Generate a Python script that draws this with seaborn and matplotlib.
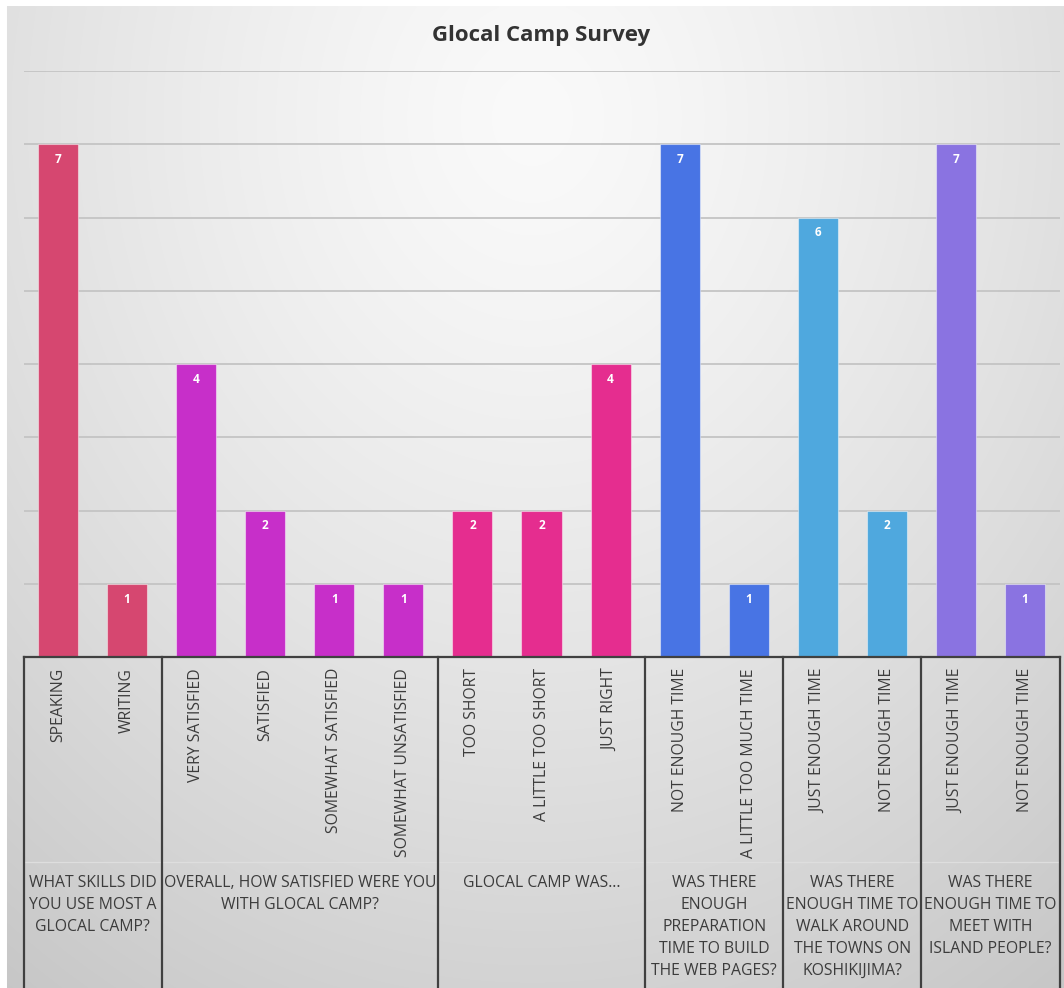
import numpy as np
import pandas as pd
import matplotlib
matplotlib.use("Agg")
import matplotlib.pyplot as plt
import matplotlib.transforms as mtrans
import seaborn as sns

# ---------------- data ----------------
categories = ["SPEAKING", "WRITING",
              "VERY SATISFIED", "SATISFIED", "SOMEWHAT SATISFIED", "SOMEWHAT UNSATISFIED",
              "TOO SHORT", "A LITTLE TOO SHORT", "JUST RIGHT",
              "NOT ENOUGH TIME", "A LITTLE TOO MUCH TIME",
              "JUST ENOUGH TIME", "NOT ENOUGH TIME",
              "JUST ENOUGH TIME", "NOT ENOUGH TIME"]
values = [7, 1, 4, 2, 1, 1, 2, 2, 4, 7, 1, 6, 2, 7, 1]
group_labels = ["WHAT SKILLS DID\nYOU USE MOST A\nGLOCAL CAMP?",
                "OVERALL, HOW SATISFIED WERE YOU\nWITH GLOCAL CAMP?",
                "GLOCAL CAMP WAS\u2026",
                "WAS THERE\nENOUGH\nPREPARATION\nTIME TO BUILD\nTHE WEB PAGES?",
                "WAS THERE\nENOUGH TIME TO\nWALK AROUND\nTHE TOWNS ON\nKOSHIKIJIMA?",
                "WAS THERE\nENOUGH TIME TO\nMEET WITH\nISLAND PEOPLE?"]
group_sizes = [2, 4, 3, 2, 2, 2]
group_colors = ["#D64770", "#C72FC9", "#E52D8F", "#4874E4", "#4FA8DE", "#8A73E1"]
title = "Glocal Camp Survey"

# ---------------- figure ----------------
W, H = 1064, 988
fig = plt.figure(figsize=(W / 100, H / 100), dpi=100)
plt.rcParams["font.family"] = ["Open Sans", "DejaVu Sans"]

# background gradient
bg = fig.add_axes([0, 0, 1, 1], zorder=-10)
yy, xx = np.mgrid[0:H, 0:W]
r = np.sqrt(((xx - W * 0.5) / (W * 0.75)) ** 2 + ((yy - H * 0.12) / (H * 0.95)) ** 2)
g = 0.98 - 0.17 * np.clip(r, 0, 1.2) ** 1.3
img = np.dstack([g, g, g])
img[:7, :, :] = 1.0
img[:, :7, :] = 1.0
bg.imshow(img, aspect="auto", extent=[0, 1, 0, 1], interpolation="bilinear")
bg.set_axis_off()

# main axes (pixel geometry)
left_px, right_px, top_px, base_px = 23.5, 1059.5, 71, 657
ax = fig.add_axes([left_px / W, (H - base_px) / H, (right_px - left_px) / W, (base_px - top_px) / H])
ax.set_facecolor("none")
ax_h_px = base_px - top_px

group_idx = []
for gi, n in enumerate(group_sizes):
    group_idx += [gi] * n
keys = [f"c{i}" for i in range(len(categories))]
df = pd.DataFrame({"key": keys, "value": values,
                   "group": [f"g{g}" for g in group_idx]})
palette = {f"g{i}": c for i, c in enumerate(group_colors)}

sns.barplot(data=df, x="key", y="value", hue="group", order=keys,
            hue_order=list(palette.keys()), palette=palette, dodge=False,
            width=0.58, saturation=1, legend=False, ax=ax,
            edgecolor=(1, 1, 1, 0.45), linewidth=0.8, zorder=3)

ax.set_xlim(-0.5, len(categories) - 0.5)
ax.set_ylim(0, 8)
ax.set_yticks(range(0, 9))
ax.yaxis.grid(True, color="#c4c4c4", linewidth=1.3, zorder=0)
ax.set_axisbelow(True)
ax.tick_params(axis="y", left=False, labelleft=False)
for s in ["left", "right", "top"]:
    ax.spines[s].set_visible(False)
ax.spines["bottom"].set_color("#404040")
ax.spines["bottom"].set_linewidth(1.6)
ax.spines["bottom"].set_zorder(5)
ax.set_xlabel("")
ax.set_ylabel("")

# category tick labels
ax.set_xticks(range(len(categories)))
ax.set_xticklabels(categories, rotation=90, fontsize=11.3, color="#3c3c3c", va="top")
ax.tick_params(axis="x", length=0, pad=8)

# value labels
for i, v in enumerate(values):
    ax.annotate(str(v), (i, v), xytext=(0, -11), textcoords="offset points",
                ha="center", va="center", color="white", fontsize=8.5,
                fontweight="bold", zorder=6)


def ypx(p):
    return (base_px - p) / ax_h_px


trans = mtrans.blended_transform_factory(ax.transData, ax.transAxes)

# group dividers and labels
bounds = np.concatenate([[0], np.cumsum(group_sizes)]) - 0.5
for b in bounds:
    ax.plot([b, b], [0, ypx(990)], transform=trans, color="#404040",
            linewidth=1.6, clip_on=False, zorder=5)
ax.plot([bounds[0], bounds[-1]], [ypx(862), ypx(862)], transform=trans,
        color="#dedede", linewidth=0.9, clip_on=False, zorder=4)
for gi, lab in enumerate(group_labels):
    cx = (bounds[gi] + bounds[gi + 1]) / 2
    ax.text(cx, ypx(875), lab, transform=trans, ha="center", va="top",
            fontsize=11.3, color="#3c3c3c", linespacing=1.5, clip_on=False)

# title
fig.text(541 / W, 1 - 36 / H, title, ha="center", va="center",
         fontsize=16, fontweight="bold", color="#333333")

fig.savefig("out.png", dpi=100)
